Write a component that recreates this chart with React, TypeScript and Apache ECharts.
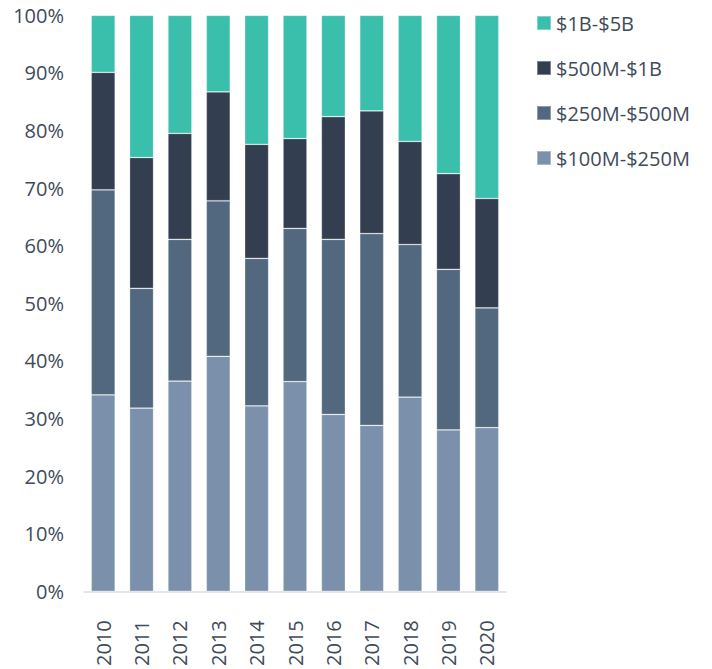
import React, { useEffect, useRef } from "react";
import * as echarts from "echarts";

const years = ["2010", "2011", "2012", "2013", "2014", "2015", "2016", "2017", "2018", "2019", "2020"];
const s100to250 = [34.1, 31.8, 36.5, 40.8, 32.2, 36.4, 30.7, 28.8, 33.7, 28.0, 28.4];
const s250to500 = [35.6, 20.8, 24.6, 27.0, 25.6, 26.6, 30.4, 33.3, 26.5, 27.9, 20.8];
const s500to1B = [20.4, 22.7, 18.4, 18.9, 19.8, 15.6, 21.3, 21.3, 17.9, 16.6, 19.0];
const s1Bto5B = [9.9, 24.7, 20.5, 13.3, 22.4, 21.4, 17.6, 16.6, 21.9, 27.5, 31.8];
const seriesNames = ["$100M-$250M", "$250M-$500M", "$500M-$1B", "$1B-$5B"];
const colors = ["#7b90aa", "#52687e", "#333f50", "#3bbfad"];

const FONT = "'Open Sans', sans-serif";
const TEXT = "#404b5a";

export default function App() {
  const ref = useRef<HTMLDivElement>(null);
  useEffect(() => {
    if (!ref.current) return;
    const chart = echarts.init(ref.current, null, { renderer: "svg" });
    const data = [s100to250, s250to500, s500to1B, s1Bto5B];
    chart.setOption({
      animation: false,
      grid: { left: 84, right: 206, top: 15.3, bottom: 76.7, containLabel: false },
      legend: {
        orient: "vertical",
        left: 531,
        top: 8,
        data: [seriesNames[3], seriesNames[2], seriesNames[1], seriesNames[0]],
        icon: "rect",
        itemWidth: 14,
        itemHeight: 14,
        itemGap: 25,
        textStyle: { fontFamily: FONT, fontSize: 20, color: TEXT, lineHeight: 20 },
      },
      xAxis: {
        type: "category",
        data: years,
        axisLine: { show: true, lineStyle: { color: "#d6dce5", width: 1.5 } },
        axisTick: { show: false },
        axisLabel: { rotate: 90, fontFamily: FONT, fontSize: 20, color: TEXT, margin: 29 },
      },
      yAxis: {
        type: "value",
        min: 0,
        max: 100,
        interval: 10,
        axisLine: { show: false },
        axisTick: { show: false },
        splitLine: { show: false },
        axisLabel: { formatter: "{value}%", fontFamily: FONT, fontSize: 20, color: TEXT, margin: 20 },
      },
      series: data.map((d, i) => ({
        name: seriesNames[i],
        type: "bar",
        stack: "total",
        data: d,
        barCategoryGap: "37.5%",
        itemStyle: { color: colors[i], borderColor: "rgba(255,255,255,0.35)", borderWidth: 0.75 },
      })),
    });
    return () => chart.dispose();
  }, []);
  return <div ref={ref} style={{ width: 712, height: 669, position: "absolute", left: 0, top: 0 }} />;
}
